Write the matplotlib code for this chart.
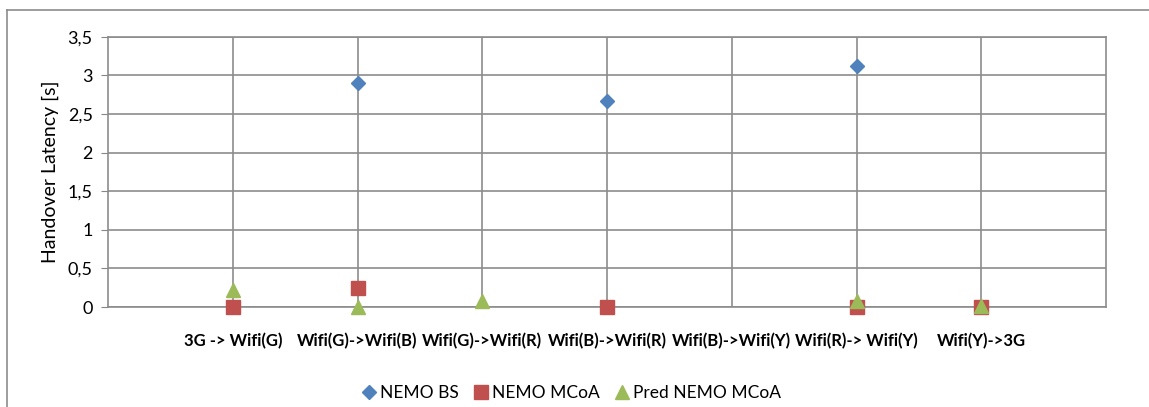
import numpy as np
import matplotlib.pyplot as plt
from matplotlib.lines import Line2D
from matplotlib.ticker import FuncFormatter

plt.rcParams['font.family'] = ['Lato', 'DejaVu Sans']

# handover cases and measured latencies (s); nan = no measurement
handovers = ['3G -> Wifi(G)', 'Wifi(G)->Wifi(B)', 'Wifi(G)->Wifi(R)', 'Wifi(B)->Wifi(R)',
             'Wifi(B)->Wifi(Y)', 'Wifi(R)-> Wifi(Y)', 'Wifi(Y)->3G']
nemo_bs = [np.nan, 2.90, np.nan, 2.67, np.nan, 3.12, np.nan]
nemo_mcoa = [0.0, 0.25, np.nan, 0.0, np.nan, 0.0, 0.0]
pred_mcoa = [0.22, 0.0, 0.08, np.nan, np.nan, 0.08, 0.01]

W, H = 1149, 407
fig = plt.figure(figsize=(W / 100, H / 100), dpi=100)
ax = fig.add_axes([108 / W, 1 - 307 / H, (1106 - 108) / W, (307 - 36.7) / H])

x = np.arange(1, len(handovers) + 1)
ax.plot(x, nemo_bs, 'D', color='#4F81BD', markersize=7.2, label='NEMO BS', zorder=3, clip_on=False)
ax.plot(x, nemo_mcoa, 's', color='#C0504D', markersize=9.4, label='NEMO MCoA', zorder=3, clip_on=False)
ax.plot(x, pred_mcoa, '^', color='#9BBB59', markersize=10, label='Pred NEMO MCoA', zorder=4, clip_on=False)

ax.set_xlim(0, len(handovers) + 1)
ax.set_ylim(0, 3.5)
ax.set_yticks(np.arange(0, 3.51, 0.5))
ax.yaxis.set_major_formatter(FuncFormatter(lambda v, p: ('%g' % v).replace('.', ',')))
ax.set_xticks(x)
ax.set_xticklabels(handovers, fontsize=12, fontweight='bold')
ax.tick_params(axis='x', length=0, pad=19)
ax.tick_params(axis='y', length=5, color='#868686', labelsize=13, pad=6)
ax.set_ylabel('Handover Latency [s]', fontsize=14, labelpad=6)

ax.grid(True, color='#8c8c8c', linewidth=1.2)
ax.set_axisbelow(True)
for side in ['top', 'right', 'left', 'bottom']:
    ax.spines[side].set_color('#8c8c8c')
    ax.spines[side].set_linewidth(1.2)

ax.legend(loc='center', bbox_to_anchor=(572 / W, 1 - 393 / H), bbox_transform=fig.transFigure,
          ncol=3, frameon=False, fontsize=12.5, handlelength=0.7, handletextpad=0.3,
          columnspacing=0.9, borderaxespad=0)

# outer chart border (left and top edges visible)
fig.add_artist(Line2D([7 / W, 7 / W], [0, 1 - 10 / H], transform=fig.transFigure,
                      color='#8c8c8c', linewidth=1.2))
fig.add_artist(Line2D([7 / W, 1], [1 - 10 / H, 1 - 10 / H], transform=fig.transFigure,
                      color='#8c8c8c', linewidth=1.2))

fig.savefig('out.png', dpi=100)
